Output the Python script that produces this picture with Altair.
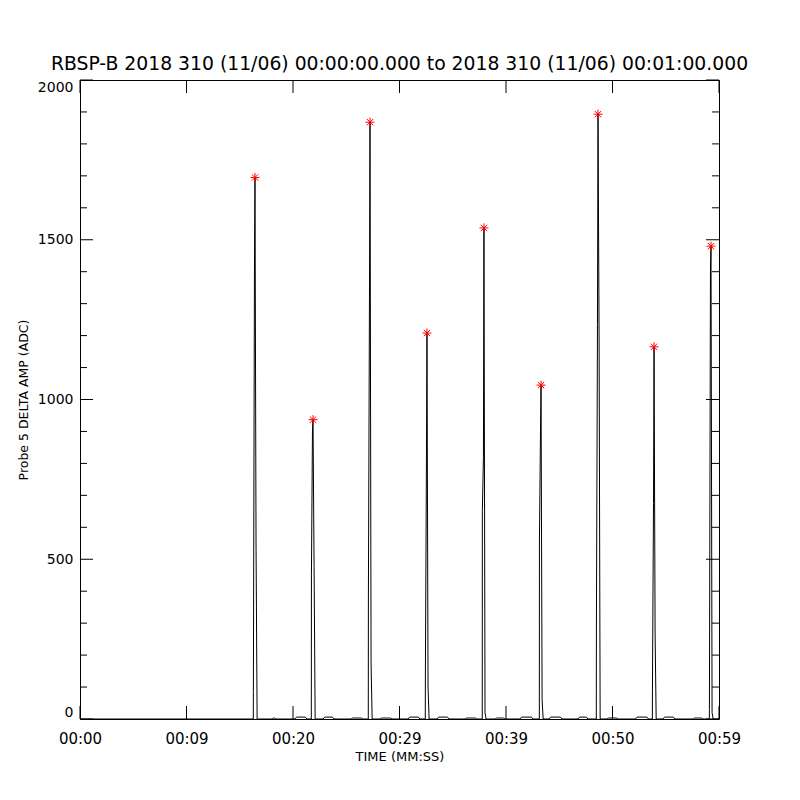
import json
import altair as alt
import pandas as pd

FONT = "DejaVu Sans"
title_text = "RBSP-B 2018 310 (11/06) 00:00:00.000 to 2018 310 (11/06) 00:01:00.000"

# --- data -----------------------------------------------------------------
spike_times = [16.43, 21.88, 27.23, 32.58, 37.93, 43.29, 48.64, 53.90, 59.25]
spike_offsets = [-0.16, -0.15, -0.05, 0.0, 0.10, 0.20]
spike_values = [
    [0, 83, 1396, 1695, 548, 0],
    [0, 451, 909, 937, 477, 0],
    [0, 382, 1315, 1868, 176, 0],
    [0, 135, 814, 1208, 100, 0],
    [0, 652, 818, 1537, 20, 0],
    [0, 560, 902, 1045, 60, 0],
    [0, 288, 1235, 1893, 1199, 0],
    [0, 91, 674, 1165, 272, 0],
    [0, 30, 1415, 1480, 20, 0],
]
peak_values = [1695, 937, 1868, 1208, 1537, 1045, 1893, 1165, 1480]

bump_start = [18.03, 20.19, 22.82, 25.45, 28.17, 30.80, 33.52, 36.15,
              38.97, 41.31, 44.04, 46.76, 49.48, 52.16, 54.74, 57.56]
bump_end = [18.40, 21.31, 23.85, 26.57, 29.30, 31.92, 34.65, 37.28,
            39.91, 42.54, 45.26, 47.70, 50.52, 53.38, 55.87, 58.50]
bump_values = [3, 6, 6, 3, 3, 6, 6, 3, 3, 6, 6, 6, 3, 6, 6, 3]
bump_edge = 0.15

x_tick_values = [0, 10, 20, 30, 40, 50, 60]
x_tick_labels = ["00:00", "00:09", "00:20", "00:29", "00:39", "00:50", "00:59"]
y_major = [0, 500, 1000, 1500, 2000]
y_minor = [100, 200, 300, 400, 600, 700, 800, 900, 1100, 1200, 1300, 1400,
           1600, 1700, 1800, 1900]

# --- build the series -------------------------------------------------------
rows = [{"t": 0.0, "v": 0}, {"t": 60.0, "v": 0}]
for t0, vals in zip(spike_times, spike_values):
    for off, v in zip(spike_offsets, vals):
        rows.append({"t": t0 + off, "v": v})
for s, e, v in zip(bump_start, bump_end, bump_values):
    rows += [{"t": s, "v": 0}, {"t": s + bump_edge, "v": v},
             {"t": e - bump_edge, "v": v}, {"t": e, "v": 0}]
series = pd.DataFrame(rows).sort_values("t").reset_index(drop=True)
series["order"] = range(len(series))

peaks = pd.DataFrame({"t": spike_times, "v": peak_values})

xscale = alt.Scale(domain=[0, 60], nice=False, zero=False)
yscale = alt.Scale(domain=[0, 2000], nice=False)

label_expr = json.dumps(x_tick_labels).replace('"', "'") + "[round(datum.value/10)]"

line = alt.Chart(series).mark_line(color="black", strokeWidth=1, interpolate="linear").encode(
    x=alt.X("t:Q", scale=xscale,
            axis=alt.Axis(values=x_tick_values, labelExpr=label_expr, title="TIME (MM:SS)",
                          ticks=False, domain=False, grid=False, labelFlush=False,
                          labelPadding=12, titlePadding=4, labelFontSize=15,
                          titleFontSize=13, labelFont=FONT, titleFont=FONT,
                          titleFontWeight="normal", labelColor="black", titleColor="black")),
    y=alt.Y("v:Q", scale=yscale,
            axis=alt.Axis(values=y_major, format="d", title="Probe 5 DELTA AMP (ADC)",
                          ticks=False, domain=False, grid=False, labelFlush=True,
                          labelPadding=7, titlePadding=7, labelFontSize=14,
                          titleFontSize=12.5, labelFont=FONT, titleFont=FONT,
                          titleFontWeight="normal", labelColor="black", titleColor="black")),
    order="order:Q",
)

asterisk = "M-1,0L1,0M0,-1L0,1M-0.7,-0.7L0.7,0.7M-0.7,0.7L0.7,-0.7"
stars = alt.Chart(peaks).mark_point(shape=asterisk, size=81, color="#ff0000",
                                     filled=False, strokeWidth=1, opacity=1).encode(
    x=alt.X("t:Q", scale=xscale), y=alt.Y("v:Q", scale=yscale))

ymaj = pd.DataFrame({"v": y_major})
ymin = pd.DataFrame({"v": y_minor})
xt = pd.DataFrame({"t": x_tick_values})

def yt(df, x1, x2):
    return alt.Chart(df).mark_rule(color="black", strokeWidth=1).encode(
        y=alt.Y("v:Q", scale=yscale), x=alt.value(x1), x2=alt.value(x2))

def xtk(df, y1, y2):
    return alt.Chart(df).mark_rule(color="black", strokeWidth=1).encode(
        x=alt.X("t:Q", scale=xscale), y=alt.value(y1), y2=alt.value(y2))

W = H = 639
chart = alt.layer(
    line, stars,
    yt(ymaj, 0, 13), yt(ymaj, W, W - 13),
    yt(ymin, 0, 7), yt(ymin, W, W - 7),
    xtk(xt, H, H - 13), xtk(xt, 0, 13),
).properties(
    width=W, height=H,
    title=alt.TitleParams(text=title_text, fontSize=18.8, font=FONT, fontWeight="normal",
                          anchor="middle", offset=6, color="black"),
    autosize=alt.AutoSizeParams(type="none"),
    padding={"left": 72, "top": 72, "right": 60, "bottom": 70},
    background="white",
).configure_view(stroke="black", strokeWidth=1)

chart.save("out.html", embed_options={"renderer": "svg", "actions": False})
